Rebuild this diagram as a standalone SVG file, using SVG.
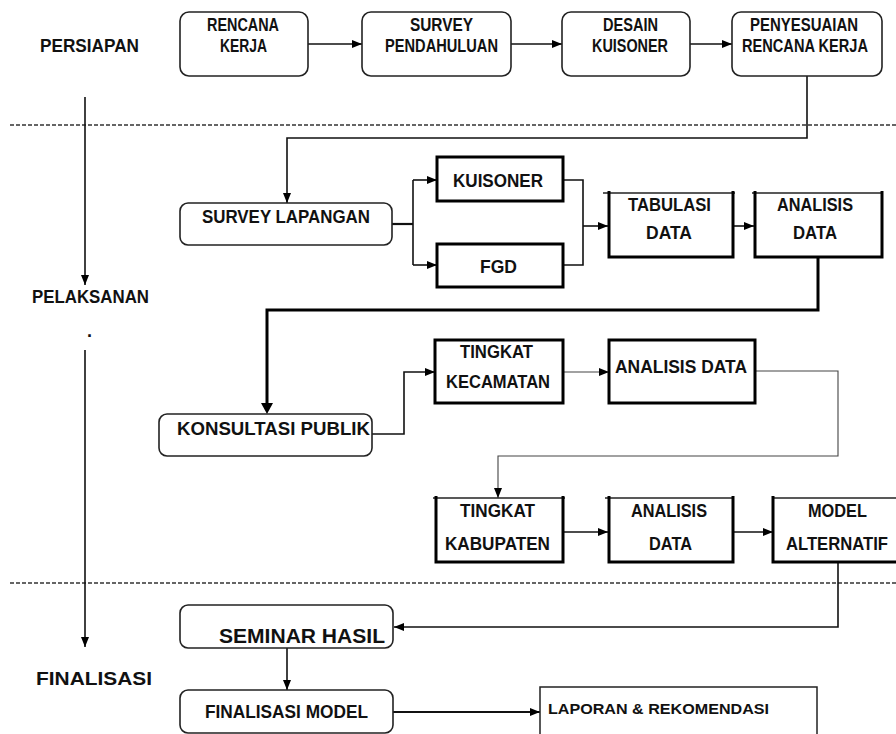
<svg xmlns="http://www.w3.org/2000/svg" width="896" height="734" viewBox="0 0 896 734">
<style>
  text { font-family: "Liberation Sans", Arial, sans-serif; font-weight: bold; fill: #111; }
  .s18 { font-size: 18px; }
  .s22 { font-size: 21px; }
  .s15 { font-size: 15px; }
  .rbox { fill: #fff; stroke: #222; stroke-width: 1.6; }
  .tbox { fill: #fff; stroke: #000; stroke-width: 3; }
  .side { fill: none; stroke: #000; stroke-width: 3; }
  .topl { fill: none; stroke: #222; stroke-width: 1.5; }
  .thin { fill: #fff; stroke: #222; stroke-width: 1.5; }
  .c { fill: none; stroke: #111; stroke-width: 1.6; }
  .c1 { fill: none; stroke: #444; stroke-width: 1.1; }
  .c2 { fill: none; stroke: #111; stroke-width: 2.2; }
  .c3 { fill: none; stroke: #000; stroke-width: 3; }
  .dash { fill: none; stroke: #333; stroke-width: 1.3; stroke-dasharray: 4 2; }
</style>
<defs>
  <marker id="ah" markerUnits="userSpaceOnUse" markerWidth="10" markerHeight="10" viewBox="0 0 10 10" refX="10" refY="5" orient="auto">
    <path d="M0,1 L10,5 L0,9 Z" fill="#000"/>
  </marker>
</defs>

<rect width="896" height="734" fill="#fff"/>

<!-- dashed separators -->
<line class="dash" x1="10" y1="125" x2="896" y2="125"/>
<line class="dash" x1="10" y1="583" x2="896" y2="583"/>

<!-- phase labels -->
<g id="phase-labels">
  <text class="s18" x="40" y="52" textLength="99" lengthAdjust="spacingAndGlyphs">PERSIAPAN</text>
  <text class="s18" x="32" y="303" textLength="117" lengthAdjust="spacingAndGlyphs">PELAKSANAN</text>
  <text class="s18" x="87" y="337">.</text>
  <text class="s18" x="36" y="685" textLength="116" lengthAdjust="spacingAndGlyphs">FINALISASI</text>
</g>

<!-- connectors -->
<g id="connectors">
  <line class="c" x1="85" y1="97" x2="85" y2="285" marker-end="url(#ah)"/>
  <line class="c" x1="85" y1="350" x2="85" y2="647" marker-end="url(#ah)"/>

  <line class="c" x1="308" y1="44" x2="362" y2="44" marker-end="url(#ah)"/>
  <line class="c" x1="511" y1="44" x2="562" y2="44" marker-end="url(#ah)"/>
  <line class="c" x1="690" y1="44" x2="732" y2="44" marker-end="url(#ah)"/>

  <polyline class="c" points="807,76 807,138 287,138 287,203" marker-end="url(#ah)"/>

  <line class="c2" x1="392" y1="224" x2="413" y2="224"/>
  <line class="c" x1="413" y1="180" x2="413" y2="265"/>
  <line class="c" x1="413" y1="180" x2="437" y2="180" marker-end="url(#ah)"/>
  <line class="c" x1="413" y1="265" x2="437" y2="265" marker-end="url(#ah)"/>

  <polyline class="c" points="563,180 583,180 583,265 563,265"/>
  <line class="c" x1="583" y1="226" x2="608" y2="226" marker-end="url(#ah)"/>
  <line class="c" x1="733" y1="226" x2="754" y2="226" marker-end="url(#ah)"/>

  <polyline class="c3" points="818,257 818,310 267,310 267,403"/>
  <path d="M261,403 L273,403 L267,414 Z" fill="#000"/>

  <polyline class="c" points="372,434 404,434 404,372 435,372" marker-end="url(#ah)"/>
  <line class="c1" x1="563" y1="372" x2="609" y2="372" marker-end="url(#ah)"/>
  <polyline class="c1" points="755,371 838,371 838,456 498,456 498,498" marker-end="url(#ah)"/>

  <line class="c" x1="563" y1="532" x2="608" y2="532" marker-end="url(#ah)"/>
  <line class="c" x1="733" y1="532" x2="773" y2="532" marker-end="url(#ah)"/>

  <polyline class="c" points="838,562 838,627 394,627" marker-end="url(#ah)"/>
  <line class="c" x1="287" y1="648" x2="287" y2="690" marker-end="url(#ah)"/>
  <line class="c2" x1="393" y1="712" x2="540" y2="712" marker-end="url(#ah)"/>
</g>

<!-- top row -->
<g id="rencana-kerja">
  <rect class="rbox" x="180" y="12" width="128" height="64" rx="9"/>
  <text class="s18" x="207" y="31" textLength="72" lengthAdjust="spacingAndGlyphs">RENCANA</text>
  <text class="s18" x="220" y="52" textLength="47" lengthAdjust="spacingAndGlyphs">KERJA</text>
</g>
<g id="survey-pendahuluan">
  <rect class="rbox" x="362" y="12" width="149" height="64" rx="9"/>
  <text class="s18" x="410" y="31" textLength="63" lengthAdjust="spacingAndGlyphs">SURVEY</text>
  <text class="s18" x="385" y="52" textLength="113" lengthAdjust="spacingAndGlyphs">PENDAHULUAN</text>
</g>
<g id="desain-kuisoner">
  <rect class="rbox" x="562" y="12" width="128" height="64" rx="9"/>
  <text class="s18" x="603" y="31" textLength="55" lengthAdjust="spacingAndGlyphs">DESAIN</text>
  <text class="s18" x="592" y="52" textLength="76" lengthAdjust="spacingAndGlyphs">KUISONER</text>
</g>
<g id="penyesuaian">
  <rect class="rbox" x="732" y="12" width="150" height="64" rx="9"/>
  <text class="s18" x="750" y="31" textLength="108" lengthAdjust="spacingAndGlyphs">PENYESUAIAN</text>
  <text class="s18" x="742" y="52" textLength="126" lengthAdjust="spacingAndGlyphs">RENCANA KERJA</text>
</g>

<!-- second section -->
<g id="survey-lapangan">
  <rect class="rbox" x="180" y="203" width="212" height="42" rx="8"/>
  <text class="s18" x="202" y="223" textLength="168" lengthAdjust="spacingAndGlyphs">SURVEY LAPANGAN</text>
</g>
<g id="kuisoner">
  <rect class="tbox" x="437" y="157" width="126" height="44"/>
  <text class="s18" x="453" y="187" textLength="90" lengthAdjust="spacingAndGlyphs">KUISONER</text>
</g>
<g id="fgd">
  <rect class="tbox" x="437" y="244" width="126" height="43"/>
  <text class="s18" x="480" y="273" textLength="37" lengthAdjust="spacingAndGlyphs">FGD</text>
</g>
<g id="tabulasi-data">
  <rect x="609" y="193" width="124" height="64" fill="#fff"/>
  <line class="topl" x1="603" y1="193" x2="735" y2="193"/>
  <polyline class="side" points="609,191 609,257 733,257 733,191"/>
  <text class="s18" x="628" y="211" textLength="83" lengthAdjust="spacingAndGlyphs">TABULASI</text>
  <text class="s18" x="646" y="239" textLength="46" lengthAdjust="spacingAndGlyphs">DATA</text>
</g>
<g id="analisis-data-1">
  <rect x="755" y="193" width="127" height="64" fill="#fff"/>
  <line class="topl" x1="752" y1="193" x2="883" y2="193"/>
  <polyline class="side" points="755,191 755,257 882,257 882,191"/>
  <text class="s18" x="777" y="211" textLength="76" lengthAdjust="spacingAndGlyphs">ANALISIS</text>
  <text class="s18" x="793" y="239" textLength="44" lengthAdjust="spacingAndGlyphs">DATA</text>
</g>

<!-- third section -->
<g id="konsultasi-publik">
  <rect class="rbox" x="159" y="414" width="213" height="42" rx="8"/>
  <text class="s18" x="177" y="435" textLength="193" lengthAdjust="spacingAndGlyphs">KONSULTASI PUBLIK</text>
</g>
<g id="tingkat-kecamatan">
  <rect class="tbox" x="435" y="340" width="128" height="63"/>
  <text class="s18" x="460" y="358" textLength="73" lengthAdjust="spacingAndGlyphs">TINGKAT</text>
  <text class="s18" x="446" y="388" textLength="104" lengthAdjust="spacingAndGlyphs">KECAMATAN</text>
</g>
<g id="analisis-data-2">
  <rect class="tbox" x="609" y="340" width="146" height="63"/>
  <text class="s18" x="615" y="373" textLength="132" lengthAdjust="spacingAndGlyphs">ANALISIS DATA</text>
</g>

<!-- fourth row -->
<g id="tingkat-kabupaten">
  <rect x="436" y="498" width="127" height="64" fill="#fff"/>
  <line class="topl" x1="433" y1="498" x2="565" y2="498"/>
  <polyline class="side" points="436,496 436,562 563,562 563,496"/>
  <text class="s18" x="460" y="517" textLength="75" lengthAdjust="spacingAndGlyphs">TINGKAT</text>
  <text class="s18" x="445" y="550" textLength="105" lengthAdjust="spacingAndGlyphs">KABUPATEN</text>
</g>
<g id="analisis-data-3">
  <rect x="609" y="498" width="124" height="64" fill="#fff"/>
  <line class="topl" x1="605" y1="498" x2="733" y2="498"/>
  <polyline class="side" points="609,496 609,562 733,562 733,496"/>
  <text class="s18" x="631" y="517" textLength="76" lengthAdjust="spacingAndGlyphs">ANALISIS</text>
  <text class="s18" x="649" y="550" textLength="43" lengthAdjust="spacingAndGlyphs">DATA</text>
</g>
<g id="model-alternatif">
  <rect x="773" y="498" width="130" height="64" fill="#fff"/>
  <line class="topl" x1="773" y1="498" x2="900" y2="498"/>
  <polyline class="side" points="773,496 773,562 900,562"/>
  <text class="s18" x="808" y="517" textLength="59" lengthAdjust="spacingAndGlyphs">MODEL</text>
  <text class="s18" x="786" y="550" textLength="102" lengthAdjust="spacingAndGlyphs">ALTERNATIF</text>
</g>

<!-- finalisasi -->
<g id="seminar-hasil">
  <rect class="rbox" x="180" y="605" width="213" height="43" rx="8"/>
  <text class="s22" x="219" y="643" textLength="166" lengthAdjust="spacingAndGlyphs">SEMINAR HASIL</text>
</g>
<g id="finalisasi-model">
  <rect class="rbox" x="180" y="690" width="213" height="43" rx="8"/>
  <text class="s18" x="205" y="718" textLength="163" lengthAdjust="spacingAndGlyphs">FINALISASI MODEL</text>
</g>
<g id="laporan">
  <rect class="thin" x="540" y="687" width="277" height="60"/>
  <text class="s15" x="548" y="714" textLength="221" lengthAdjust="spacingAndGlyphs">LAPORAN &amp; REKOMENDASI</text>
</g>
</svg>
